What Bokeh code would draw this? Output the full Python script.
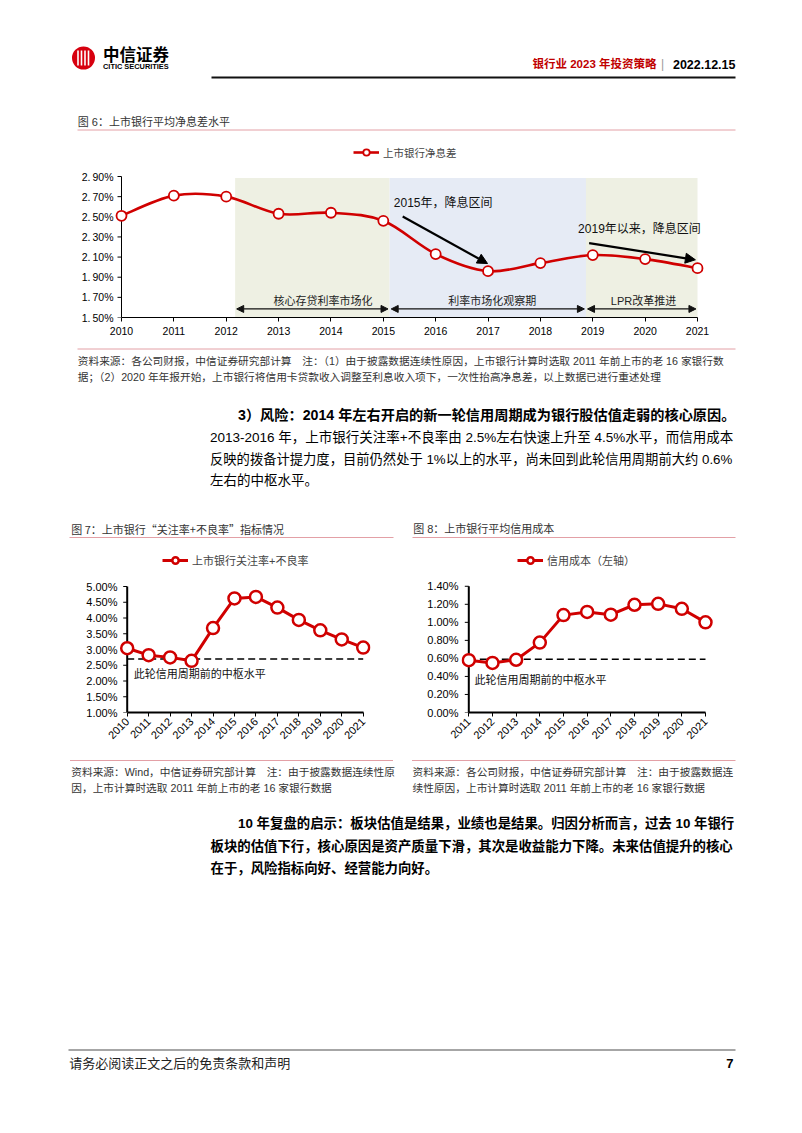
import numpy as np
from bokeh.plotting import figure
from bokeh.models import (Range1d, FixedTicker, Legend, LegendItem, Arrow,
                          NormalHead, CustomJSTickFormatter)
from bokeh.layouts import column, row
from bokeh.core.properties import value
from bokeh.embed import file_html
from bokeh.resources import INLINE

# ---------------- data ----------------
years6 = [2010, 2011, 2012, 2013, 2014, 2015, 2016, 2017, 2018, 2019, 2020, 2021]
nim = [2.51, 2.71, 2.70, 2.53, 2.54, 2.46, 2.13, 1.96, 2.04, 2.12, 2.08, 1.99]
nim_ticks = [1.50, 1.70, 1.90, 2.10, 2.30, 2.50, 2.70, 2.90]
period_start = [2012.17, 2015.12, 2018.87]
period_end = [2015.12, 2018.87, 2021.0]
period_labels = ["核心存贷利率市场化", "利率市场化观察期", "LPR改革推进"]
period_label_x = [2013.85, 2017.08, 2019.97]

years7 = [2010, 2011, 2012, 2013, 2014, 2015, 2016, 2017, 2018, 2019, 2020, 2021]
npl = [3.04, 2.82, 2.75, 2.64, 3.68, 4.62, 4.67, 4.33, 3.94, 3.61, 3.32, 3.06]
npl_ticks = [1.0, 1.5, 2.0, 2.5, 3.0, 3.5, 4.0, 4.5, 5.0]
npl_base = 2.70

years8 = [2011, 2012, 2013, 2014, 2015, 2016, 2017, 2018, 2019, 2020, 2021]
credit_cost = [0.58, 0.55, 0.585, 0.775, 1.08, 1.115, 1.085, 1.195, 1.205, 1.15, 1.00]
cc_ticks = [0.0, 0.2, 0.4, 0.6, 0.8, 1.0, 1.2, 1.4]
cc_base = 0.59

# ---------------- styles ----------------
RED = "#D00000"
PINK = "#E3A0A6"
CJK = "Noto Sans CJK SC"
MIX = "Liberation Sans, Noto Sans CJK SC"
LAT = "Liberation Sans"
PAGE_W = 802


def canvas(w, h, top, left=0):
    f = figure(width=w, height=h, x_range=Range1d(left, left + w),
               y_range=Range1d(top + h, top), x_axis_type=None, y_axis_type=None,
               toolbar_location=None, output_backend="svg", min_border=0)
    f.grid.visible = False
    f.outline_line_color = None
    f.background_fill_color = "white"
    f.border_fill_color = "white"
    return f


def txt(f, x, y, s, size, color="#000000", bold=False, align="left", font=MIX):
    f.text(x=[x], y=[y], text=[s], text_font=value(font), text_font_size=f"{size}px",
           text_font_style="bold" if bold else "normal", text_color=color,
           text_align=align, text_baseline="middle")


def hline(f, x0, x1, y, color, width=1.0):
    f.line(x=[x0, x1], y=[y, y], line_color=color, line_width=width)


def chart(width, height, fl, fr, ft, fb, px_first, px_last, xfirst, xlast,
          py_top, ybot, ytop):
    """Figure whose frame spans [fl, fr] x [ft, fb] (pixels in the figure) and whose
    scales put xfirst at px_first, xlast at px_last, ytop at py_top, ybot at fb."""
    ppx = (px_last - px_first) / (xlast - xfirst)
    ppy = (fb - py_top) / (ytop - ybot)
    xr = Range1d(xfirst - (px_first - fl) / ppx, xlast + (fr - px_last) / ppx)
    yr = Range1d(ybot, ytop + (py_top - ft) / ppy)
    p = figure(width=width, height=height, x_range=xr, y_range=yr,
               min_border_left=fl, min_border_right=width - fr, min_border_top=ft,
               min_border_bottom=height - fb, toolbar_location=None, output_backend="svg")
    p.grid.visible = False
    p.outline_line_color = None
    p.background_fill_color = "white"
    p.border_fill_color = "white"
    return p, ppx


def style_axes(p, xticks, yticks, axis_x, lw, ppx, label_standoff_y, font_x, font_y,
               yfont=LAT, fmt="return tick.toFixed(2) + '%';"):
    for ax in p.axis:
        ax.minor_tick_line_color = None
        ax.major_label_text_color = "black"
    xa = p.xaxis[0]
    xa.ticker = FixedTicker(ticks=xticks)
    xa.bounds = (xticks[0], xticks[-1])
    xa.axis_line_color = "black"
    xa.axis_line_width = lw
    xa.major_tick_line_color = "black"
    xa.major_tick_line_width = 1
    xa.major_tick_in = 0
    xa.major_tick_out = 4
    xa.major_label_text_font = LAT
    xa.major_label_text_font_size = font_x
    ya = p.yaxis[0]
    ya.ticker = FixedTicker(ticks=yticks)
    ya.axis_line_color = None
    ya.major_tick_line_color = None
    ya.major_tick_in = 0
    ya.major_tick_out = 0
    ya.major_label_standoff = label_standoff_y
    ya.major_label_text_font = yfont
    ya.major_label_text_font_size = font_y
    ya.formatter = CustomJSTickFormatter(code=fmt)
    # vertical axis line at the first category, and its outward ticks
    p.line(x=[axis_x, axis_x], y=[yticks[0], yticks[-1]], line_color="black", line_width=lw)
    d = 4.0 / ppx
    p.segment(x0=[axis_x - d] * len(yticks), y0=yticks, x1=[axis_x] * len(yticks),
              y1=yticks, line_color="black", line_width=1)


# ---------------- Row A: header ----------------
rowA_top, rowA_h = 0, 140
A = canvas(PAGE_W, rowA_h, rowA_top)
A.scatter(x=[83], y=[57.5], size=23, marker="circle", fill_color="#D7000F", line_color=None)
for xx in [77.5, 81, 84.5, 88]:
    A.line(x=[xx, xx], y=[50, 65], line_color="white", line_width=1.6)
txt(A, 102.5, 53.5, "中信证券", 16.5, bold=True, font=CJK)
txt(A, 102.5, 66, "CITIC SECURITIES", 7.4, bold=True, font=LAT)
txt(A, 656, 63.5, "银行业 2023 年投资策略", 11.5, color="#C00000", bold=True, align="right")
txt(A, 662, 63, "|", 12, color="#999999", align="center", font=LAT)
txt(A, 735, 63.5, "2022.12.15", 12.5, bold=True, align="right", font=LAT)
hline(A, 211, 735, 77, "#111111", 2)
txt(A, 77.3, 121, "图 6：上市银行平均净息差水平", 11, color="#333333")
hline(A, 77, 735, 129.5, PINK, 1)

# ---------------- Row B: chart 6 ----------------
p6, ppx6 = chart(PAGE_W, 205, 113, 705, 3, 177, 121.0, 697.0, years6[0], years6[-1],
                 36.0, nim_ticks[0], nim_ticks[-1])
style_axes(p6, years6, nim_ticks, years6[0], 1.0, ppx6, 0, "10.5px", "10.5px",
           yfont="Liberation Sans Narrow, Liberation Sans",
           fmt="return tick.toFixed(2).replace('.', '.\u2009') + '%';")

p6.quad(left=period_start, right=period_end, bottom=nim_ticks[0], top=2.885,
        fill_color=["#EEF0E3", "#E6EBF5", "#EEF0E3"], line_color=None)

# smooth line (Catmull-Rom style bezier through the data points)
xs = np.array(years6, dtype=float)
ys = np.array(nim, dtype=float)
n = len(xs)
xp = np.concatenate([[xs[0]], xs, [xs[-1]]])
yp = np.concatenate([[ys[0]], ys, [ys[-1]]])
t = 1.0 / 6.0
cx0 = xp[1:n] + (xp[2:n + 1] - xp[0:n - 1]) * t
cy0 = yp[1:n] + (yp[2:n + 1] - yp[0:n - 1]) * t
cx1 = xp[2:n + 1] - (xp[3:n + 2] - xp[1:n]) * t
cy1 = yp[2:n + 1] - (yp[3:n + 2] - yp[1:n]) * t
p6.bezier(x0=xs[:-1], y0=ys[:-1], x1=xs[1:], y1=ys[1:], cx0=cx0, cy0=cy0,
          cx1=cx1, cy1=cy1, line_color=RED, line_width=2.6)
key6 = p6.line(x=[years6[0]], y=[nim[0]], line_color=RED, line_width=2.6)
sc6 = p6.scatter(x=years6, y=nim, marker="circle", size=10, fill_color="white",
                 line_color=RED, line_width=1.8)

for s, e in zip(period_start, period_end):
    p6.add_layout(Arrow(x_start=s + 0.03, x_end=e - 0.03, y_start=1.585, y_end=1.585,
                        line_width=1.2, line_color="#111111",
                        start=NormalHead(size=7, fill_color="#111111", line_color="#111111"),
                        end=NormalHead(size=7, fill_color="#111111", line_color="#111111")))
p6.text(x=period_label_x, y=[1.668] * 3, text=period_labels, text_font=value(MIX),
        text_font_size="11px", text_color="#222222", text_align="center",
        text_baseline="middle")

p6.add_layout(Arrow(x_start=2015.37, y_start=2.503, x_end=2016.99, y_end=2.036,
                    line_width=2.2, line_color="black",
                    end=NormalHead(size=10, fill_color="black", line_color="black")))
p6.add_layout(Arrow(x_start=2018.93, y_start=2.238, x_end=2020.96, y_end=2.073,
                    line_width=2.2, line_color="black",
                    end=NormalHead(size=10, fill_color="black", line_color="black")))
p6.text(x=[2015.2, 2018.72], y=[2.632, 2.38], text=["2015年，降息区间", "2019年以来，降息区间"],
        text_font=value(MIX), text_font_size="12px", text_color="#111111",
        text_align="left", text_baseline="middle")

leg6 = Legend(items=[LegendItem(label="上市银行净息差", renderers=[key6, sc6])],
              location=(240, 157), orientation="horizontal", padding=0, margin=0,
              spacing=0, glyph_width=26, glyph_height=16, label_height=16,
              label_standoff=4, border_line_color=None, background_fill_alpha=0,
              label_text_font=CJK, label_text_font_size="10.5px")
p6.add_layout(leg6)

# ---------------- Row C: notes, paragraph, titles ----------------
rowC_top, rowC_h = 345, 195
C = canvas(PAGE_W, rowC_h, rowC_top)
hline(C, 77, 735, 348.5, PINK, 1)
txt(C, 77.3, 360, "资料来源：各公司财报，中信证券研究部计算　注：（1）由于披露数据连续性原因，上市银行计算时选取 2011 年前上市的老 16 家银行数", 10.7, color="#333333")
txt(C, 77.3, 376, "据；（2）2020 年年报开始，上市银行将信用卡贷款收入调整至利息收入项下，一次性抬高净息差，以上数据已进行重述处理", 10.7, color="#333333")
txt(C, 237.5, 414, "3）风险：2014 年左右开启的新一轮信用周期成为银行股估值走弱的核心原因。", 14.2, bold=True)
txt(C, 209.5, 437, "2013-2016 年，上市银行关注率+不良率由 2.5%左右快速上升至 4.5%水平，而信用成本", 13.5)
txt(C, 209.5, 459, "反映的拨备计提力度，目前仍然处于 1%以上的水平，尚未回到此轮信用周期前大约 0.6%", 13.3)
txt(C, 209.5, 480, "左右的中枢水平。", 13.5)
txt(C, 70.8, 528.3, "图 7：上市银行“关注率+不良率”指标情况", 11, color="#333333", font=CJK)
txt(C, 412.7, 528.3, "图 8：上市银行平均信用成本", 11, color="#333333")
hline(C, 69, 393, 537, PINK, 1)
hline(C, 412, 735, 537, PINK, 1)

# ---------------- Row D: charts 7 and 8 ----------------
H78 = 218

p7, ppx7 = chart(402, H78, 119, 370, 8, 172, 126.7, 362.7, years7[0], years7[-1],
                 46.0, npl_ticks[0], npl_ticks[-1])
style_axes(p7, years7, npl_ticks, years7[0], 2.0, ppx7, 2, "11px", "11px")
p7.xaxis.major_label_orientation = np.pi / 4
p7.xaxis.major_label_standoff = 3
p7.line(x=[years7[0], years7[-1]], y=[npl_base, npl_base], line_color="black",
        line_width=1.5, line_dash="7 4")
ln7 = p7.line(x=years7, y=npl, line_color=RED, line_width=3)
sc7 = p7.scatter(x=years7, y=npl, marker="circle", size=12, fill_color="white",
                 line_color=RED, line_width=2.5)
p7.text(x=[years7[0] + 0.31], y=[2.24], text=["此轮信用周期前的中枢水平"],
        text_font=value(CJK), text_font_size="11px", text_color="#111111",
        text_align="left", text_baseline="middle")
leg7 = Legend(items=[LegendItem(label="上市银行关注率+不良率", renderers=[ln7, sc7])],
              location=(43, 144), orientation="horizontal", padding=0, margin=0,
              spacing=0, glyph_width=26, glyph_height=16, label_height=16,
              label_standoff=4, border_line_color=None, background_fill_alpha=0,
              label_text_font=MIX, label_text_font_size="11px")
p7.add_layout(leg7)

p8, ppx8 = chart(400, H78, 59, 311, 8, 173, 66.3, 303.0, years8[0], years8[-1],
                 46.0, cc_ticks[0], cc_ticks[-1])
style_axes(p8, years8, cc_ticks, years8[0], 2.0, ppx8, 3, "11px", "11px")
p8.xaxis.major_label_orientation = np.pi / 4
p8.xaxis.major_label_standoff = 3
p8.line(x=[years8[0], years8[-1]], y=[cc_base, cc_base], line_color="black",
        line_width=1.5, line_dash="7 4")
ln8 = p8.line(x=years8, y=credit_cost, line_color=RED, line_width=3)
sc8 = p8.scatter(x=years8, y=credit_cost, marker="circle", size=12, fill_color="white",
                 line_color=RED, line_width=2.5)
p8.text(x=[years8[0] + 0.24], y=[0.366], text=["此轮信用周期前的中枢水平"],
        text_font=value(CJK), text_font_size="11px", text_color="#111111",
        text_align="left", text_baseline="middle")
leg8 = Legend(items=[LegendItem(label="信用成本（左轴）", renderers=[ln8, sc8])],
              location=(56, 144), orientation="horizontal", padding=0, margin=0,
              spacing=0, glyph_width=26, glyph_height=16, label_height=16,
              label_standoff=4, border_line_color=None, background_fill_alpha=0,
              label_text_font=CJK, label_text_font_size="11px")
p8.add_layout(leg8)

# ---------------- Row E: notes, paragraph, footer ----------------
rowE_top, rowE_h = 758, 372
E = canvas(PAGE_W, rowE_h, rowE_top)
hline(E, 69.5, 392.5, 760, PINK, 1)
hline(E, 411.5, 735, 760, PINK, 1)
txt(E, 70.8, 771.7, "资料来源：Wind，中信证券研究部计算　注：由于披露数据连续性原", 10.7, color="#333333")
txt(E, 70.8, 787.5, "因，上市计算时选取 2011 年前上市的老 16 家银行数据", 10.7, color="#333333")
txt(E, 412, 771.7, "资料来源：各公司财报，中信证券研究部计算　注：由于披露数据连", 10.7, color="#333333")
txt(E, 412, 787.5, "续性原因，上市计算时选取 2011 年前上市的老 16 家银行数据", 10.7, color="#333333")
txt(E, 237.5, 823.3, "10 年复盘的启示：板块估值是结果，业绩也是结果。归因分析而言，过去 10 年银行", 13.4, bold=True)
txt(E, 210, 846, "板块的估值下行，核心原因是资产质量下滑，其次是收益能力下降。未来估值提升的核心", 13.4, bold=True)
txt(E, 210, 868, "在于，风险指标向好、经营能力向好。", 13.4, bold=True)
hline(E, 68, 735, 1049.5, "#A6A6A6", 2)
txt(E, 68.7, 1063.3, "请务必阅读正文之后的免责条款和声明", 13, color="#222222")
txt(E, 733, 1063.3, "7", 13, bold=True, align="right", font=LAT)

layout = column(row(A), row(p6), row(C), row(p7, p8), row(E), spacing=0)
open("out.html", "w").write(file_html(layout, INLINE))
